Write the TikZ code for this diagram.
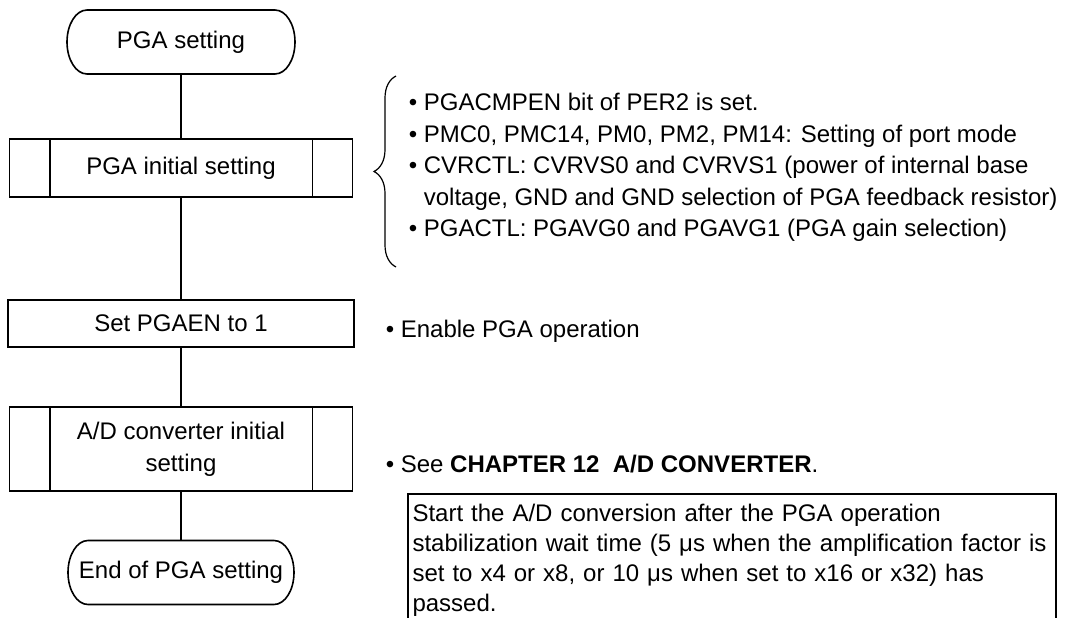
\documentclass[tikz,border=0pt]{standalone}
\usepackage{fontspec}
\setmainfont{Liberation Sans}
\usepackage{tikz}
\usetikzlibrary{positioning,decorations.pathreplacing}

\begin{document}
\begin{tikzpicture}[x=1pt, y=-1pt, line width=1.6pt,
        every node/.style={font=\fontsize{24}{31.5}\selectfont},
        box/.style={draw, rectangle, align=center, inner sep=0pt},
        term/.style={rectangle, align=center, minimum height=64pt, inner sep=0pt, outer sep=0pt},
        remark/.style={inner sep=0pt}]
        \useasboundingbox (0,0) rectangle (1066,618);
        \clip (0,0) rectangle (1066,618);

        % flow
        \node[term, minimum width=228pt] (start) at (181,42) {PGA setting};
        \node[box, minimum width=343pt, minimum height=58pt] (init) at (181,168) {PGA initial setting};
        \node[box, minimum width=346pt, minimum height=47pt] (setb) at (181,323.5) {Set PGAEN to 1};
        \node[box, minimum width=343pt, minimum height=84pt, font=\fontsize{24}{32}\selectfont] (adc) at (181,449) {A/D converter initial\\setting};
        \node[term, minimum width=226pt] (stop) at (181,572.5) {End of PGA setting};

        \foreach \a/\b in {start/init, init/setb, setb/adc, adc/stop}
            \draw (\a) -- (\b);

        \foreach \n in {start, stop}
            \draw ([xshift=20pt]\n.north west) -- ([xshift=-20pt]\n.north east)
                arc[start angle=90, end angle=-90, x radius=20pt, y radius=32pt]
                -- ([xshift=20pt]\n.south west)
                arc[start angle=270, end angle=90, x radius=20pt, y radius=32pt] -- cycle;

        \foreach \n in {init, adc} {
            \draw ([xshift=41pt]\n.north west) -- ([xshift=41pt]\n.south west);
            \draw ([xshift=-41pt]\n.north east) -- ([xshift=-41pt]\n.south east);
        }

        % remarks
        \draw[line width=1.2pt, decorate, decoration={brace, amplitude=22pt}] (396,267) -- (396,76);
        \node[remark, anchor=north west, align=left] (list) at (408,92.5) {\textbullet\ PGACMPEN bit of PER2 is set.\\\textbullet\ PMC0, PMC14, PM0, PM2, PM14: Setting of port mode\\\textbullet\ CVRCTL: CVRVS0 and CVRVS1 (power of internal base\\\phantom{\textbullet\ }voltage, GND and GND selection of PGA feedback resistor)\\\textbullet\ PGACTL: PGAVG0 and PGAVG1 (PGA gain selection)};
        \node[remark, anchor=base west] (enable) at (385,337) {\textbullet\ Enable PGA operation};
        \node[remark, anchor=base west] (see) at (385,472) {\textbullet\ See \textbf{CHAPTER 12\ \ A/D CONVERTER}.};
        \node[draw, anchor=north west, inner xsep=4.5pt, inner ysep=10pt, outer sep=0pt, text width=639pt, align=left, font=\fontsize{24}{30}\selectfont] (note) at (408,494) {Start the A/D conversion after the PGA operation\\stabilization wait time (5 μs when the amplification factor is\\set to x4 or x8, or 10 μs when set to x16 or x32) has\\passed.};
    \end{tikzpicture}
\end{document}
